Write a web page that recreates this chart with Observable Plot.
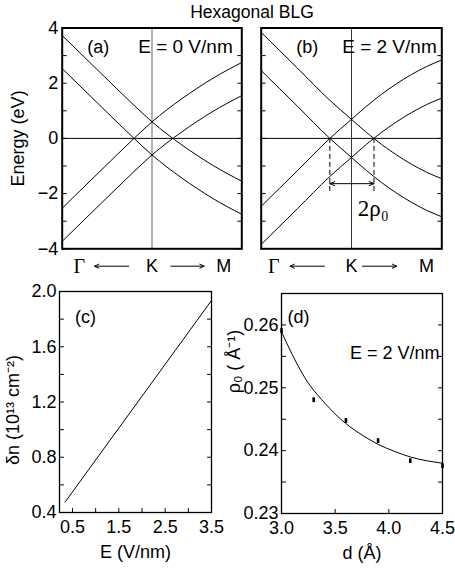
<!DOCTYPE html>
<html><head><meta charset="utf-8">
<script src="https://cdn.jsdelivr.net/npm/d3@7"></script>
<script src="https://cdn.jsdelivr.net/npm/@observablehq/plot@0.6"></script>
<style>
html,body{margin:0;padding:0;background:#fff;}
#fig{position:relative;width:455px;height:569px;overflow:hidden;font-family:"Liberation Sans",Arial,sans-serif;}
#fig svg{position:absolute;}
#title{position:absolute;left:62px;width:380px;top:3px;text-align:center;font-size:17.5px;line-height:18px;}
</style></head><body>
<div id="fig"><div id="title">Hexagonal BLG</div></div>
<script>
// ---------- Data: panel (a), E = 0 V/nm ----------
const kA = [-1, -0.6, -0.2, 0, 0.167, 0.334, 0.5, 0.669, 0.836, 1];
const aUpperDown = [3.73, 2.46, 1.2, 0.6, 0.16, -0.24, -0.61, -0.96, -1.27, -1.55];
const aLowerDown = [2.53, 1.26, 0.0, -0.6, -1.04, -1.44, -1.81, -2.16, -2.47, -2.75];
const aUpperUp   = [-2.53, -1.26, 0.0, 0.6, 1.04, 1.44, 1.81, 2.16, 2.47, 2.75];
const aLowerUp   = [-3.73, -2.46, -1.2, -0.6, -0.16, 0.24, 0.61, 0.96, 1.27, 1.55];
// ---------- Data: panel (b), E = 2 V/nm ----------
const kB = [-1, -0.6, -0.24, 0, 0.166, 0.331, 0.497, 0.663, 0.829, 1];
const bUpperDown = [3.84, 2.55, 1.38, 0.69, 0.215, -0.214, -0.596, -0.932, -1.221, -1.46];
const bLowerDown = [2.46, 1.17, 0.0, -0.69, -1.165, -1.594, -1.976, -2.312, -2.601, -2.84];
const bUpperUp   = [-2.46, -1.17, 0.0, 0.69, 1.165, 1.594, 1.976, 2.312, 2.601, 2.84];
const bLowerUp   = [-3.84, -2.55, -1.38, -0.69, -0.215, 0.214, 0.596, 0.932, 1.221, 1.46];
const rhoCrossK = [-0.24, 0.249];      // zero-energy crossings marked in (b)
const rhoDashEnd = -2;                 // dashed guide lines end (eV)
const rhoArrowE = -1.64;               // double arrow height (eV)
const rhoLabel = ["2ρ₀"];
const rhoLabelPos = [0.07, -2.56];
// ---------- band-panel tick labels ----------
const bandYTickLabels = [-4, -2, 0, 2, 4];
const bandYTicks = [-4, -3, -2, -1, 0, 1, 2, 3, 4];
const kPointNames = ["Γ", "K", "M"];
const kPointPosA = [-0.81, 0, 0.80];
const kPointPosB = [-0.86, 0, 0.83];
const kArrowsA = [[-0.26, -0.64], [0.21, 0.58]];
const kArrowsB = [[-0.30, -0.68], [0.12, 0.50]];
const kLabelE = -4.63;
// ---------- Data: panel (c) ----------
const fieldE = [0.34, 3.5];
const deltaN = [0.475, 1.935];
const cXTickLabels = [0.5, 1.5, 2.5, 3.5];
const cXTicks = [0.5, 1, 1.5, 2, 2.5, 3, 3.5];
const cYTickLabels = [0.4, 0.8, 1.2, 1.6, 2.0];
const cYTicks = [0.6, 0.8, 1.0, 1.2, 1.4, 1.6, 1.8];
// ---------- Data: panel (d) ----------
const dPts = [3.0, 3.3, 3.6, 3.9, 4.2, 4.5];
const rhoPts = [0.2591, 0.2481, 0.2448, 0.2416, 0.2384, 0.2376];
const dFit = [3.0, 3.1, 3.2, 3.3, 3.45, 3.6, 3.75, 3.9, 4.05, 4.2, 4.35, 4.5];
const rhoFit = [0.2589, 0.2553, 0.2521, 0.2496, 0.2467, 0.2443, 0.2425, 0.2410, 0.2399, 0.2390, 0.2384, 0.2380];
const dXTickLabels = [3.0, 3.5, 4.0, 4.5];
const dYTickLabels = [0.23, 0.24, 0.25, 0.26];
const dYTicks = [0.235, 0.24, 0.245, 0.25, 0.255, 0.26];

// ---------- helpers ----------
const SANS = "Liberation Sans, Arial, sans-serif";
const SERIF = "Liberation Serif, Times New Roman, serif";
const FS = 18;
const inTick = {draw(ctx, l) { ctx.moveTo(0, 0); ctx.lineTo(0, -l); }};
function ticksLR(vals, len = 4) {
  return [
    Plot.vector(vals, {y: d => d, frameAnchor: "left", rotate: 90, length: len, anchor: "start", shape: inTick, strokeWidth: 1}),
    Plot.vector(vals, {y: d => d, frameAnchor: "right", rotate: -90, length: len, anchor: "start", shape: inTick, strokeWidth: 1})
  ];
}
function ticksB(vals, len = 4) {
  return Plot.vector(vals, {x: d => d, frameAnchor: "bottom", rotate: 0, length: len, anchor: "start", shape: inTick, strokeWidth: 1});
}
function rows(k, series) {
  return series.flatMap(([name, vals]) => vals.map((E, i) => ({k: k[i], E, band: name})));
}
function place(svg, left, top) {
  svg.style.left = left + "px";
  svg.style.top = top + "px";
  document.getElementById("fig").appendChild(svg);
}
const baseStyle = {background: "transparent", overflow: "visible", fontFamily: SANS, fontSize: FS + "px", color: "black"};

function bandPanel(o) {
  const data = rows(o.k, o.series);
  const marks = [
    Plot.ruleY([0], {stroke: "black", strokeWidth: 1}),
    Plot.ruleX([0], {stroke: o.kColor, strokeWidth: o.kWidth}),
    Plot.line(data, {x: "k", y: "E", z: "band", stroke: "black", strokeWidth: 1, curve: "monotone-x"}),
    ...ticksLR(bandYTicks, 4),
    Plot.frame({stroke: "black", strokeWidth: 2}),
    Plot.text([o.tag], {frameAnchor: "top-left", dx: o.tagDx, dy: 19, text: d => d, textAnchor: "middle", lineAnchor: "middle", fontSize: FS}),
    Plot.text([o.field], {frameAnchor: "top-left", dx: o.fieldDx, dy: 19, text: d => d, textAnchor: "start", lineAnchor: "middle", fontSize: 19}),
    Plot.text([kPointNames[0]], {x: [o.kpos[0]], y: [kLabelE], text: d => d, fontFamily: SERIF, fontSize: 20, lineAnchor: "middle"}),
    Plot.text(kPointNames.slice(1), {x: o.kpos.slice(1), y: [kLabelE, kLabelE], text: d => d, fontSize: FS, lineAnchor: "middle"}),
    Plot.arrow(o.kArrows, {x1: d => d[0], x2: d => d[1], y1: kLabelE, y2: kLabelE, stroke: "black", strokeWidth: 1, headLength: 7, headAngle: 50})
  ];
  if (o.yAxis) {
    marks.push(Plot.axisY({ticks: bandYTickLabels, tickSize: 0, tickPadding: 4, label: null}));
    marks.push(Plot.text(["Energy (eV)"], {frameAnchor: "left", dx: -43.5, rotate: -90, text: d => d, textAnchor: "middle", lineAnchor: "middle", fontSize: FS}));
  } else {
    marks.push(Plot.axisY({ticks: [], label: null}));
  }
  if (o.extra) marks.push(...o.extra);
  return Plot.plot({
    width: o.width, height: 282,
    marginLeft: o.mL, marginRight: o.mR, marginTop: 27.5, marginBottom: 33.7,
    x: {domain: [-1, 1], axis: null},
    y: {domain: [-4, 4]},
    style: baseStyle,
    marks
  });
}

// ---------- (a) ----------
place(bandPanel({
  k: kA,
  series: [["ud", aUpperDown], ["ld", aLowerDown], ["uu", aUpperUp], ["lu", aLowerUp]],
  kColor: "#8a8a8a", kWidth: 1.3,
  tag: "(a)", tagDx: 36, field: "E = 0 V/nm", fieldDx: 76,
  kpos: kPointPosA, kArrows: kArrowsA,
  width: 250, mL: 61.7, mR: 8.7, yAxis: true
}), 0, 0);

// ---------- (b) ----------
const mid = (rhoCrossK[0] + rhoCrossK[1]) / 2;
place(bandPanel({
  k: kB,
  series: [["ud", bUpperDown], ["ld", bLowerDown], ["uu", bUpperUp], ["lu", bLowerUp]],
  kColor: "#222", kWidth: 0.9,
  tag: "(b)", tagDx: 46, field: "E = 2 V/nm", fieldDx: 81,
  kpos: kPointPosB, kArrows: kArrowsB,
  width: 205, mL: 10.7, mR: 13.7, yAxis: false,
  extra: [
    Plot.ruleX(rhoCrossK, {x: d => d, y1: 0, y2: rhoDashEnd, stroke: "black", strokeWidth: 1, strokeDasharray: "5,3"}),
    Plot.arrow(rhoCrossK, {x1: mid, x2: d => d, y1: rhoArrowE, y2: rhoArrowE, stroke: "black", strokeWidth: 1, headLength: 8, headAngle: 45}),
    Plot.text(rhoLabel, {x: rhoLabelPos[0], y: rhoLabelPos[1], text: d => d, textAnchor: "start", lineAnchor: "middle", fontFamily: SERIF, fontSize: 23})
  ]
}), 250, 0);

// ---------- (c) ----------
place(Plot.plot({
  width: 228, height: 287,
  marginLeft: 59, marginRight: 17, marginTop: 9, marginBottom: 57,
  x: {domain: [0.22, 3.5]},
  y: {domain: [0.4, 2.0]},
  style: baseStyle,
  marks: [
    Plot.line(fieldE.map((e, i) => ({e, n: deltaN[i]})), {x: "e", y: "n", stroke: "black", strokeWidth: 1}),
    ...ticksLR(cYTicks, 4),
    ticksB(cXTicks, 4),
    Plot.frame({stroke: "black", strokeWidth: 1.3}),
    Plot.axisY({ticks: cYTickLabels, tickFormat: d3.format(".1f"), tickSize: 0, tickPadding: 3, label: null}),
    Plot.axisX({ticks: cXTickLabels, tickFormat: d3.format(".1f"), tickSize: 0, tickPadding: 8, label: null}),
    Plot.text(["(c)"], {frameAnchor: "top-left", dx: 26, dy: 26, text: d => d, textAnchor: "middle", lineAnchor: "middle", fontSize: FS}),
    Plot.text(["δn (10¹³ cm⁻²)"], {frameAnchor: "left", dx: -46, dy: 8, rotate: -90, text: d => d, textAnchor: "middle", lineAnchor: "middle", fontSize: FS}),
    Plot.text(["E (V/nm)"], {frameAnchor: "bottom", dy: 40, text: d => d, textAnchor: "middle", lineAnchor: "middle", fontSize: FS})
  ]
}), 0, 282);

// ---------- (d) ----------
const rhoMarker = {draw(ctx) { ctx.rect(-1.3, -2.4, 2.6, 4.8); }};
place(Plot.plot({
  width: 227, height: 287,
  marginLeft: 53, marginRight: 13, marginTop: 11, marginBottom: 56,
  x: {domain: [3.0, 4.5]},
  y: {domain: [0.23, 0.265]},
  style: baseStyle,
  marks: [
    Plot.line(dFit.map((d, i) => ({d, r: rhoFit[i]})), {x: "d", y: "r", stroke: "black", strokeWidth: 1, curve: "natural"}),
    Plot.dot(dPts.map((d, i) => ({d, r: rhoPts[i]})), {x: "d", y: "r", symbol: rhoMarker, fill: "black", stroke: "none", r: 3}),
    ...ticksLR(dYTicks, 4),
    ticksB([3.5, 4.0], 4),
    Plot.frame({stroke: "black", strokeWidth: 1.3}),
    Plot.axisY({ticks: dYTickLabels, tickFormat: d3.format(".2f"), tickSize: 0, tickPadding: 3, label: null}),
    Plot.axisX({ticks: dXTickLabels, tickFormat: d3.format(".1f"), tickSize: 0, tickPadding: 8, label: null}),
    Plot.text(["(d)"], {frameAnchor: "top-left", dx: 17, dy: 24, text: d => d, textAnchor: "middle", lineAnchor: "middle", fontSize: FS}),
    Plot.text(["E = 2 V/nm"], {frameAnchor: "top-right", dx: -3, dy: 60, text: d => d, textAnchor: "end", lineAnchor: "middle", fontSize: FS}),
    Plot.text(["ρ₀ ( Å⁻¹)"], {frameAnchor: "left", dx: -47, dy: -42, rotate: -90, text: d => d, textAnchor: "middle", lineAnchor: "middle", fontSize: FS}),
    Plot.text(["d (Å)"], {frameAnchor: "bottom", dy: 40, text: d => d, textAnchor: "middle", lineAnchor: "middle", fontSize: FS})
  ]
}), 228, 282);
</script>
</body></html>
